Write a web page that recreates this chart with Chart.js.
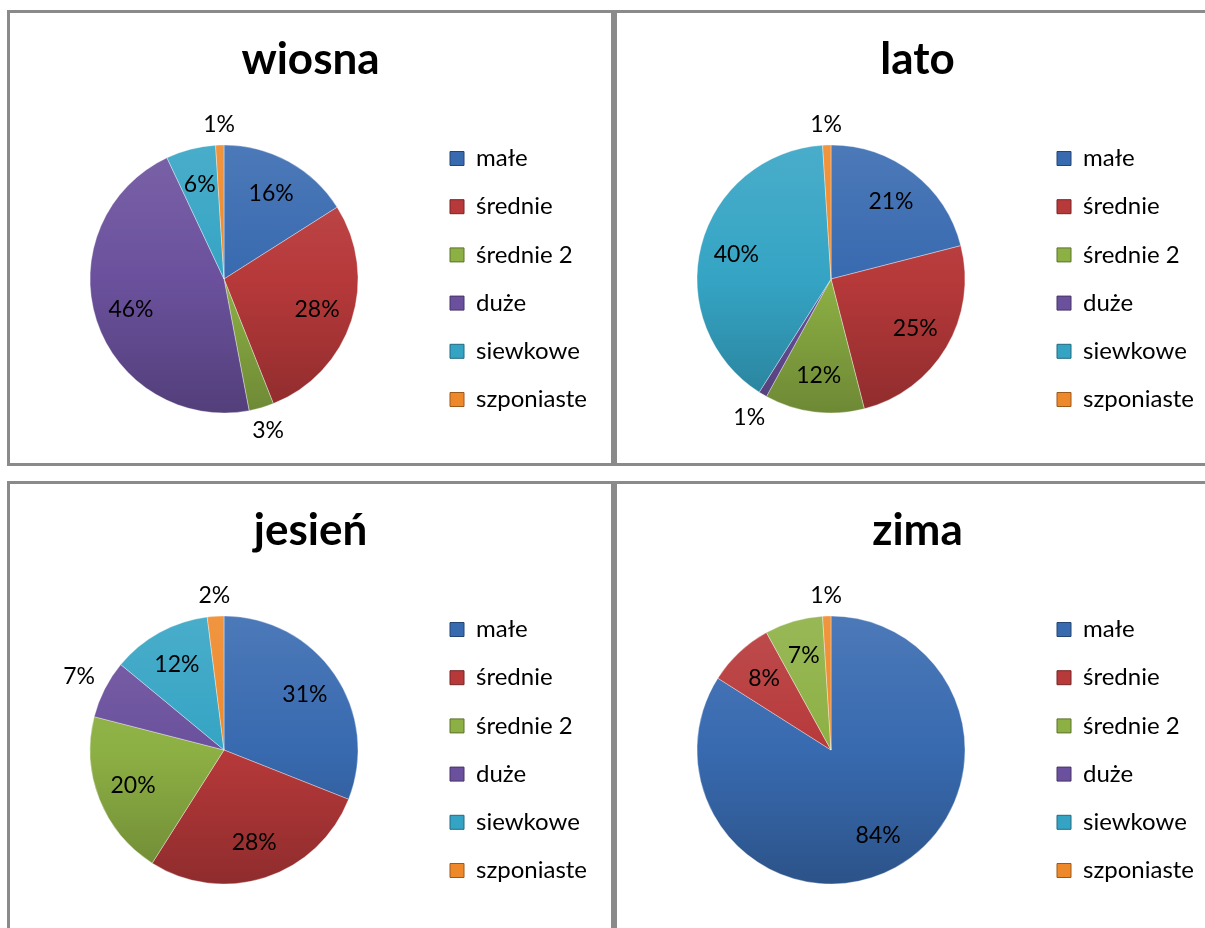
<!DOCTYPE html>
<html>
<head>
<meta charset="utf-8">
<script src="https://cdn.jsdelivr.net/npm/chart.js@4.4.1/dist/chart.umd.min.js"></script>
<style>
  body { margin: 0; background: #fff; width: 1205px; height: 928px; overflow: hidden; position: relative; }
  .panel { position: absolute; box-sizing: border-box; width: 607px; height: 456px; border: 3px solid #8a8a8a; background: #fff; }
  .panel canvas { display: block; }
</style>
</head>
<body>
<div class="panel" style="left:7px;top:10px"><canvas id="c0" width="601" height="450"></canvas></div>
<div class="panel" style="left:614px;top:10px"><canvas id="c1" width="601" height="450"></canvas></div>
<div class="panel" style="left:7px;top:481px"><canvas id="c2" width="601" height="450"></canvas></div>
<div class="panel" style="left:614px;top:481px"><canvas id="c3" width="601" height="450"></canvas></div>
<script>
// kategorie i dane (procenty)
const categories = ['małe', 'średnie', 'średnie 2', 'duże', 'siewkowe', 'szponiaste'];
const seasons = ['wiosna', 'lato', 'jesień', 'zima'];
const wiosna = [16, 28, 3, 46, 6, 1];
const lato = [21, 25, 12, 1, 40, 1];
const jesien = [31, 28, 20, 7, 12, 2];
const zima = [84, 8, 7, 0, 0, 1];
const seasonData = [wiosna, lato, jesien, zima];

// etykiety rysowane poza kołem (indeksy kategorii)
const outsideLabels = [[2, 5], [3, 5], [3, 5], [5]];

const sliceColors = ['#386ab0', '#b7393a', '#8db044', '#6b519d', '#35a4c4', '#ee892b'];
const R = 134;
const LEGEND_W = 185.2;

function mix(hex, t) {
    const n = parseInt(hex.slice(1), 16);
    const f = c => Math.round(t > 0 ? c + (255 - c) * t : c * (1 + t));
    return `rgb(${f(n >> 16)},${f((n >> 8) & 255)},${f(n & 255)})`;
}

function sliceFill(ctx) {
    const base = sliceColors[ctx.dataIndex];
    const area = ctx.chart.chartArea;
    if (!area) return base;
    const cy = (area.top + area.bottom) / 2;
    const g = ctx.chart.ctx.createLinearGradient(0, cy - R, 0, cy + R);
    g.addColorStop(0, mix(base, 0.1));
    g.addColorStop(0.5, base);
    g.addColorStop(1, mix(base, -0.22));
    return g;
}

// procenty na wycinkach
const pctLabels = {
    id: 'pctLabels',
    afterDatasetsDraw(chart, args, opts) {
        const ctx = chart.ctx;
        const meta = chart.getDatasetMeta(0);
        const values = chart.data.datasets[0].data;
        ctx.save();
        ctx.font = '23px Lato';
        ctx.fillStyle = '#000';
        ctx.textAlign = 'center';
        ctx.textBaseline = 'middle';
        meta.data.forEach((arc, i) => {
            if (!values[i]) return;
            const p = arc.getProps(['x', 'y', 'startAngle', 'endAngle', 'outerRadius']);
            const mid = (p.startAngle + p.endAngle) / 2;
            const text = values[i] + '%';
            let d;
            if (opts.outside.includes(i)) {
                const hw = ctx.measureText(text).width / 2;
                d = p.outerRadius + 10 + Math.abs(hw * Math.cos(mid)) + Math.abs(10 * Math.sin(mid));
            } else {
                d = p.outerRadius * 0.73;
            }
            ctx.fillText(text, p.x + d * Math.cos(mid), p.y + d * Math.sin(mid));
        });
        ctx.restore();
    }
};

// stała szerokość legendy + tytuł wyśrodkowany w panelu
const fixLayout = {
    id: 'fixLayout',
    beforeLayout(chart) {
        const lg = chart.legend;
        if (lg && !lg._fixedFit) {
            const fit = lg.fit.bind(lg);
            lg.fit = function() { fit(); this.width = LEGEND_W; };
            lg._fixedFit = true;
        }
    },
    afterLayout(chart) {
        if (chart.titleBlock) {
            chart.titleBlock.left = 0;
            chart.titleBlock.right = chart.width;
        }
    }
};

seasons.forEach((season, k) => {
    new Chart(document.getElementById('c' + k), {
        type: 'pie',
        data: {
            labels: categories,
            datasets: [{
                data: seasonData[k],
                backgroundColor: sliceFill,
                borderColor: 'rgba(255,255,255,0.35)',
                borderWidth: 1,
                radius: R
            }]
        },
        options: {
            responsive: false,
            animation: false,
            events: [],
            layout: { padding: { left: 12.2, right: 0, top: 0, bottom: 0 } },
            plugins: {
                title: {
                    display: true,
                    text: season,
                    color: '#000',
                    font: { family: 'Lato', size: 44, weight: 'bold', lineHeight: 1.2 },
                    padding: { top: 20.6, bottom: 8.6 }
                },
                legend: {
                    position: 'right',
                    align: 'center',
                    fullSize: false,
                    labels: {
                        boxWidth: 14,
                        boxHeight: 14,
                        padding: 24.2,
                        color: '#000',
                        font: { family: 'Lato', size: 24 },
                        generateLabels(chart) {
                            const items = Chart.overrides.pie.plugins.legend.labels.generateLabels(chart);
                            return items.map((it, i) => Object.assign(it, {
                                fillStyle: sliceColors[i],
                                strokeStyle: mix(sliceColors[i], -0.35),
                                lineWidth: 1
                            }));
                        }
                    }
                },
                tooltip: { enabled: false },
                pctLabels: { outside: outsideLabels[k] }
            }
        },
        plugins: [pctLabels, fixLayout]
    });
});
</script>
</body>
</html>
